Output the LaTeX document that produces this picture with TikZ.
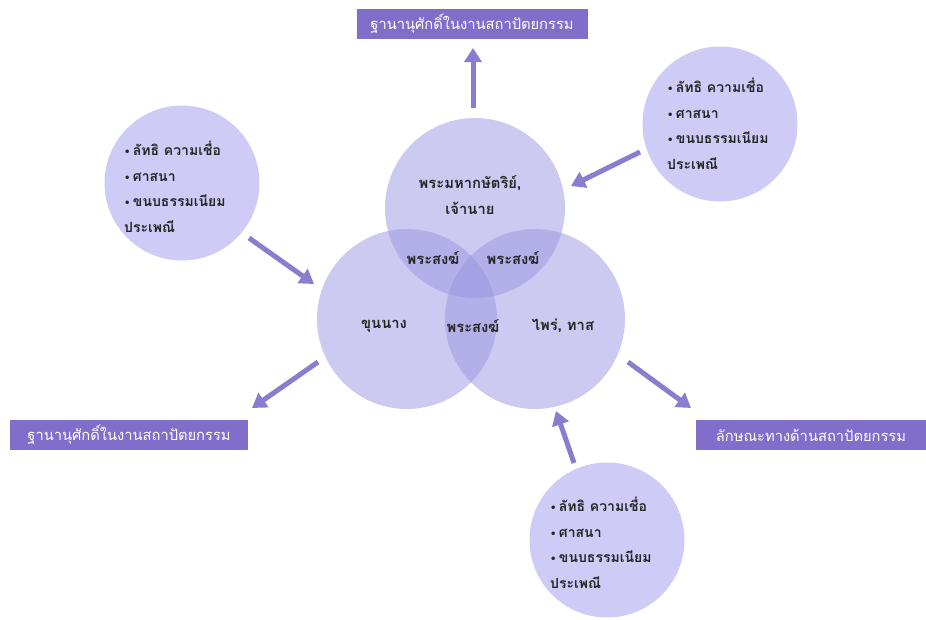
\documentclass[tikz,border=0pt]{standalone}
\usepackage{fontspec}
\newfontfamily\thaifont[Script=Thai]{Loma}
\newfontfamily\dejavu{DejaVu Sans}
\usetikzlibrary{arrows.meta}
\definecolor{venn}{RGB}{150,145,225}
\definecolor{small}{RGB}{206,204,246}
\definecolor{boxc}{RGB}{128,110,202}
\definecolor{arrc}{RGB}{138,124,206}
\newcommand\bul{{\dejavu\fontsize{10}{10}\selectfont •}\,}
\tikzset{
  vcircle/.style={circle, minimum size=180pt, inner sep=0pt, fill=venn, fill opacity=0.48, draw=none},
  scircle/.style={circle, minimum size=155pt, inner sep=0pt, fill=small, draw=none},
  lbl/.style={font=\thaifont\bfseries\fontsize{14.8}{16}\selectfont, text=black!85},
  list/.style={font=\thaifont\bfseries\fontsize{14}{25.5}\selectfont, text=black!85, align=left, anchor=north west, inner sep=0pt},
  tbox/.style={fill=boxc, text=white, font=\thaifont\fontsize{14.7}{16}\selectfont, minimum height=30pt, inner xsep=6pt},
  bigarrow/.style={draw=arrc, line width=5pt, -{Triangle[length=14pt,width=17pt]}}
}
\begin{document}
\begin{tikzpicture}[x=1pt,y=-1pt]
\useasboundingbox (0,0) rectangle (926,619);
% small circles
\node[scircle] (tr) at (720,124) {};
\node[scircle] (lc) at (182,183) {};
\node[scircle] (bc) at (607,540) {};
\node[list] (trt) at (667,78) {\bul ลัทธิ ความเชื่อ\\ \bul ศาสนา\\ \bul ขนบธรรมเนียม\\ ประเพณี};
\node[list] (lct) at (124,141) {\bul ลัทธิ ความเชื่อ\\ \bul ศาสนา\\ \bul ขนบธรรมเนียม\\ ประเพณี};
\node[list] (bct) at (550,497) {\bul ลัทธิ ความเชื่อ\\ \bul ศาสนา\\ \bul ขนบธรรมเนียม\\ ประเพณี};
% venn circles
\node[vcircle] (top) at (475,208) {};
\node[vcircle] (left) at (407,319) {};
\node[vcircle] (right) at (535,319) {};
\node[lbl] (king) at (470,183) {พระมหากษัตริย์,};
\node[lbl] (noble) at (470,208) {เจ้านาย};
\node[lbl] (m1) at (433,258) {พระสงฆ์};
\node[lbl] (m2) at (513,258) {พระสงฆ์};
\node[lbl] (m3) at (473,326) {พระสงฆ์};
\node[lbl] (khun) at (384,326) {ขุนนาง};
\node[lbl] (prai) at (563,326) {ไพร่, ทาส};
% boxes
\node[tbox, minimum width=231pt] (b1) at (472,24) {ฐานานุศักดิ์ในงานสถาปัตยกรรม};
\node[tbox, minimum width=238pt] (b2) at (129,435) {ฐานานุศักดิ์ในงานสถาปัตยกรรม};
\node[tbox, minimum width=230pt] (b3) at (811,435) {ลักษณะทางด้านสถาปัตยกรรม};
% arrow end points
\coordinate (a1s) at (473,108); \coordinate (a1e) at (473,48);
\coordinate (a2s) at (640,152); \coordinate (a2e) at (571,186);
\coordinate (a3s) at (249,238); \coordinate (a3e) at (314,284);
\coordinate (a4s) at (318,362); \coordinate (a4e) at (252,408);
\coordinate (a5s) at (628,362); \coordinate (a5e) at (691,408);
\coordinate (a6s) at (574,463); \coordinate (a6e) at (556,411);
\draw[bigarrow] (a1s) -- (a1e);
\draw[bigarrow] (a2s) -- (a2e);
\draw[bigarrow] (a3s) -- (a3e);
\draw[bigarrow] (a4s) -- (a4e);
\draw[bigarrow] (a5s) -- (a5e);
\draw[bigarrow] (a6s) -- (a6e);
\end{tikzpicture}
\end{document}
